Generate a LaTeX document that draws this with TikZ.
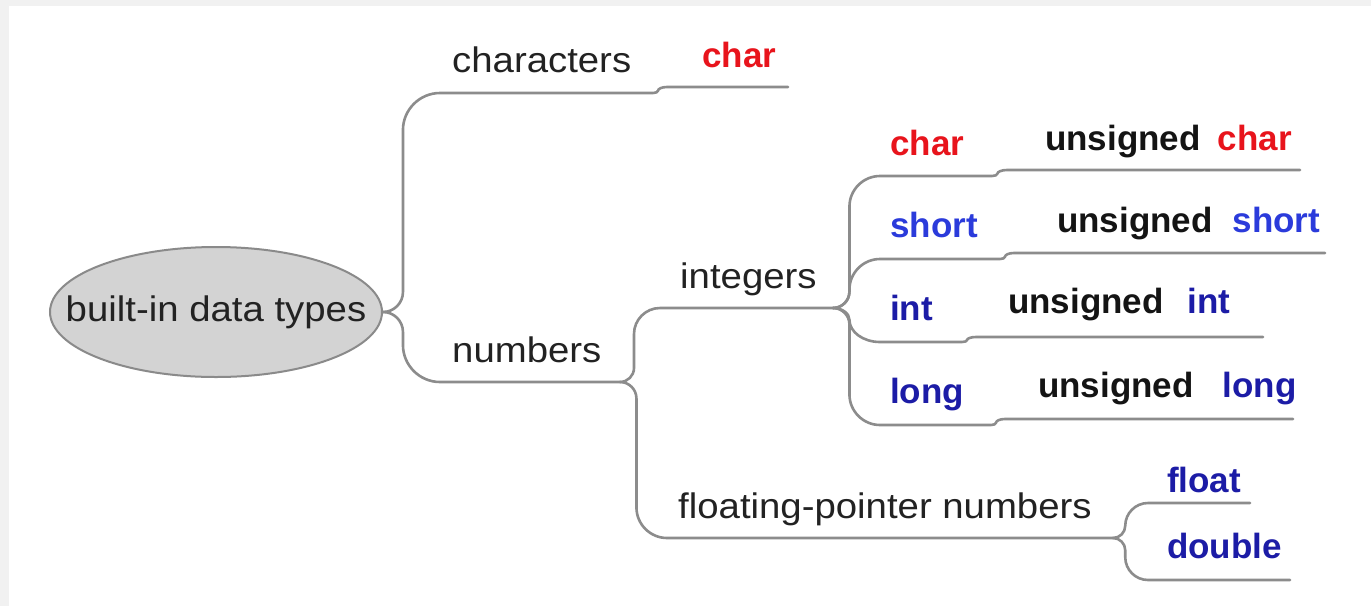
\documentclass[tikz,border=0pt]{standalone}
\usepackage{fontspec}
\setmainfont{Liberation Sans}
\newfontfamily\regf[FakeStretch=1.08]{Liberation Sans}
\usetikzlibrary{calc,shapes.geometric}
\definecolor{bgray}{HTML}{F1F1F1}
\definecolor{lgray}{HTML}{8C8C8C}
\definecolor{egray}{HTML}{D3D3D3}
\definecolor{eline}{HTML}{8A8A8A}
\definecolor{tred}{HTML}{E8141C}
\definecolor{tblue}{HTML}{2B3BDB}
\definecolor{tnavy}{HTML}{1C1CA6}
\definecolor{ttext}{HTML}{222222}
\begin{document}
\begin{tikzpicture}[x=1pt,y=-1pt,
  reg/.style={anchor=base west,inner sep=0pt,text=ttext,font=\regf\fontsize{35.5}{40}\selectfont},
  bld/.style={anchor=base west,inner sep=0pt,text=black!92,font=\fontsize{35}{40}\selectfont\bfseries},
  conn/.style={draw=lgray,line width=2.6pt,line cap=round,line join=round},
  branch/.style={to path={
    let \p1=(\tikztostart), \p2=(\tikztotarget),
        \n1={0.35*(\x2-\x1)},
        \n5={0.65*(\x2-\x1)},
        \n2={sign(\y2-\y1)},
        \n3={min(0.35*(\x2-\x1),0.35*abs(\y2-\y1))*\n2},
        \n4={min(0.65*(\x2-\x1),0.65*abs(\y2-\y1))*\n2}
    in (\p1) .. controls ({\x1+0.55*\n1},\y1) and ({\x1+\n1},{\y1+0.45*(\n3)}) .. ({\x1+\n1},{\y1+(\n3)})
       -- ({\x1+\n1},{\y2-(\n4)}) .. controls ({\x1+\n1},{\y2-0.45*(\n4)}) and ({\x1+\n1+0.45*\n5},\y2) .. (\p2) \tikztonodes}}
]
\useasboundingbox (0,0) rectangle (1371,606);
\fill[bgray] (0,0) rectangle (1371,606);
\fill[white] (9,6) rectangle (1371,606);

% root
\node[draw=eline,fill=egray,ellipse,line width=2pt,minimum width=332pt,minimum height=130pt,
      inner xsep=-34pt,inner ysep=0pt,text=ttext,font=\regf\fontsize{35.5}{40}\selectfont] (root) at (216,312) {built-in data types};

% anchor coordinates of the topic underlines
\coordinate (chS) at (440,93);   \coordinate (chE) at (653,93);
\coordinate (c1S) at (667,87);   \coordinate (c1E) at (788,87);
\coordinate (nuS) at (440,382);  \coordinate (nuE) at (620,382);
\coordinate (inS) at (660,308);  \coordinate (inE) at (833,308);
\coordinate (flS) at (667,538);  \coordinate (flE) at (1113,538);
\coordinate (icS) at (880,176);  \coordinate (icE) at (992,176);
\coordinate (ucS) at (1007,170); \coordinate (ucE) at (1300,170);
\coordinate (isS) at (880,259);  \coordinate (isE) at (1000,259);
\coordinate (usS) at (1014,253); \coordinate (usE) at (1325,253);
\coordinate (iiS) at (880,342);  \coordinate (iiE) at (962,342);
\coordinate (uiS) at (976,337);  \coordinate (uiE) at (1263,337);
\coordinate (ilS) at (880,425);  \coordinate (ilE) at (991,425);
\coordinate (ulS) at (1005,419); \coordinate (ulE) at (1293,419);
\coordinate (ftS) at (1148,503); \coordinate (ftE) at (1250,503);
\coordinate (dbS) at (1148,580); \coordinate (dbE) at (1290,580);

% connectors
\draw[conn] (root.east) to[branch] (chS) -- (chE) to[branch] (c1S) -- (c1E);
\draw[conn] (root.east) to[branch] (nuS) -- (nuE);
\draw[conn] (nuE) to[branch] (inS) -- (inE);
\draw[conn] (nuE) to[branch] (flS) -- (flE);
\draw[conn] (inE) to[branch] (icS) -- (icE) to[branch] (ucS) -- (ucE);
\draw[conn] (inE) to[branch] (isS) -- (isE) to[branch] (usS) -- (usE);
\draw[conn] (inE) to[branch] (iiS) -- (iiE) to[branch] (uiS) -- (uiE);
\draw[conn] (inE) to[branch] (ilS) -- (ilE) to[branch] (ulS) -- (ulE);
\draw[conn] (flE) to[branch] (ftS) -- (ftE);
\draw[conn] (flE) to[branch] (dbS) -- (dbE);

% labels
\node[reg] (tch) at (452,72) {characters};
\node[bld,text=tred] (tc1) at (702,67) {char};
\node[reg] (tnu) at (452,362) {numbers};
\node[reg] (tin) at (680,288) {integers};
\node[reg] (tfl) at (678,518) {floating-pointer numbers};

\node[bld,text=tred] (tic) at (890,155) {char};
\node[bld] (tuc) at (1045,150) {unsigned\hspace*{17pt}\textcolor{tred}{char}};
\node[bld,text=tblue] (tis) at (890,237) {short};
\node[bld] (tus) at (1057,232) {unsigned\hspace*{20pt}\textcolor{tblue}{short}};
\node[bld,text=tnavy] (tii) at (890,320) {int};
\node[bld] (tui) at (1008,313) {unsigned\hspace*{24pt}\textcolor{tnavy}{int}};
\node[bld,text=tnavy] (til) at (890,403) {long};
\node[bld] (tul) at (1038,397) {unsigned\hspace*{29pt}\textcolor{tnavy}{long}};
\node[bld,text=tnavy] (tft) at (1167,492) {float};
\node[bld,text=tnavy] (tdb) at (1167,558) {double};
\end{tikzpicture}
\end{document}
